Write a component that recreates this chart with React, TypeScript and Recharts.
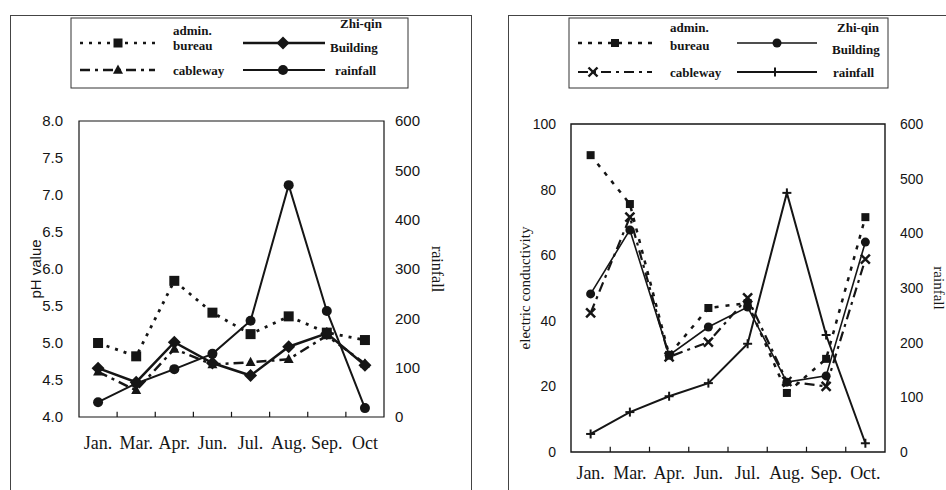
import React from 'react';
import { LineChart, Line, XAxis, YAxis, ReferenceArea, ReferenceLine } from 'recharts';

// month labels (left panel has no dot after Oct)
const monthsPh = ['Jan.', 'Mar.', 'Apr.', 'Jun.', 'Jul.', 'Aug.', 'Sep.', 'Oct'];
const monthsEc = ['Jan.', 'Mar.', 'Apr.', 'Jun.', 'Jul.', 'Aug.', 'Sep.', 'Oct.'];

// pH panel
const phAdmin = [5.0, 4.82, 5.84, 5.41, 5.12, 5.36, 5.14, 5.04];
const phZhiqin = [4.66, 4.47, 5.01, 4.73, 4.56, 4.95, 5.13, 4.7];
const phCableway = [4.61, 4.36, 4.92, 4.71, 4.74, 4.78, 5.1, 4.72];
const rainPh = [30, 68, 97, 128, 195, 470, 215, 18];

// conductivity panel
const ecAdmin = [90.5, 75.6, 29.6, 43.9, 45.4, 18, 28.4, 71.6];
const ecZhiqin = [48.2, 67.7, 29.5, 38.1, 44.2, 21.3, 23.2, 64];
const ecCableway = [42.4, 71.6, 29, 33.5, 47, 21.5, 20, 58.8];
const rainEc = [33, 73, 102, 126, 198, 474, 214, 16];

const phTicks = [4, 4.5, 5, 5.5, 6, 6.5, 7, 7.5, 8];
const ecTicks = [0, 20, 40, 60, 80, 100];
const rainTicks = [0, 100, 200, 300, 400, 500, 600];

const INK = '#151515';
const SANS = '"Liberation Sans", Arial, sans-serif';
const SERIF = '"Liberation Serif", "Times New Roman", serif';

const centers = monthsPh.map((_, i) => i + 0.5);
const bounds = [1, 2, 3, 4, 5, 6, 7];

const phData = monthsPh.map((m, i) => ({
  x: i + 0.5,
  month: m,
  admin: phAdmin[i],
  zhiqin: phZhiqin[i],
  cableway: phCableway[i],
  rain: rainPh[i],
}));

const ecData = monthsEc.map((m, i) => ({
  x: i + 0.5,
  month: m,
  admin: ecAdmin[i],
  zhiqin: ecZhiqin[i],
  cableway: ecCableway[i],
  rain: rainEc[i],
}));

type Shape = 'square' | 'diamond' | 'triangle' | 'circle' | 'cross' | 'plus';

function Marker({ shape, cx, cy, s }: { shape: Shape; cx: number; cy: number; s: number }) {
  const h = s / 2;
  switch (shape) {
    case 'square':
      return <rect x={cx - h} y={cy - h} width={s} height={s} fill={INK} />;
    case 'diamond':
      return <polygon points={`${cx},${cy - h} ${cx + h},${cy} ${cx},${cy + h} ${cx - h},${cy}`} fill={INK} />;
    case 'triangle':
      return <polygon points={`${cx},${cy - h * 1.1} ${cx + h},${cy + h * 0.75} ${cx - h},${cy + h * 0.75}`} fill={INK} />;
    case 'circle':
      return <circle cx={cx} cy={cy} r={h} fill={INK} />;
    case 'cross':
      return (
        <g stroke={INK} strokeWidth={2.4}>
          <line x1={cx - h} y1={cy - h} x2={cx + h} y2={cy + h} />
          <line x1={cx - h} y1={cy + h} x2={cx + h} y2={cy - h} />
        </g>
      );
    default:
      return (
        <g stroke={INK} strokeWidth={2}>
          <line x1={cx - h} y1={cy} x2={cx + h} y2={cy} />
          <line x1={cx} y1={cy - h} x2={cx} y2={cy + h} />
        </g>
      );
  }
}

const dotOf = (shape: Shape, s: number) => (p: any) =>
  <Marker key={`${shape}-${p.index}`} shape={shape} cx={p.cx} cy={p.cy} s={s} />;

type LegendRow = {
  shape: Shape;
  size: number;
  dash?: string;
  sw: number;
  x0: number;
  x1: number;
  mx: number;
  y: number;
  text: { s: string; x: number; y: number }[];
};

const leftLegend: LegendRow[] = [
  { shape: 'square', size: 9, dash: '3 6', sw: 2.5, x0: 80, x1: 160, mx: 118, y: 43, text: [{ s: 'admin.', x: 173, y: 35 }, { s: 'bureau', x: 173, y: 50 }] },
  { shape: 'diamond', size: 13, sw: 2.5, x0: 243, x1: 325, mx: 283, y: 43, text: [{ s: 'Zhi-qin', x: 340, y: 28 }, { s: 'Building', x: 330, y: 52 }] },
  { shape: 'triangle', size: 10, dash: '10 5 3 5', sw: 2.5, x0: 80, x1: 155, mx: 118, y: 70, text: [{ s: 'cableway', x: 173, y: 75 }] },
  { shape: 'circle', size: 10, sw: 2, x0: 243, x1: 325, mx: 283, y: 70, text: [{ s: 'rainfall', x: 335, y: 75 }] },
];

const rightLegend: LegendRow[] = [
  { shape: 'square', size: 8, dash: '4 6', sw: 2.5, x0: 578, x1: 652, mx: 615, y: 43, text: [{ s: 'admin.', x: 670, y: 32 }, { s: 'bureau', x: 670, y: 50 }] },
  { shape: 'circle', size: 9, sw: 1.5, x0: 737, x1: 817, mx: 777, y: 43, text: [{ s: 'Zhi-qin', x: 837, y: 32 }, { s: 'Building', x: 832, y: 54 }] },
  { shape: 'cross', size: 9, dash: '10 5 3 5', sw: 2, x0: 578, x1: 652, mx: 593, y: 72, text: [{ s: 'cableway', x: 670, y: 77 }] },
  { shape: 'plus', size: 9, sw: 1.8, x0: 737, x1: 817, mx: 775, y: 72, text: [{ s: 'rainfall', x: 833, y: 77 }] },
];

function LegendBox({ rows, box }: { rows: LegendRow[]; box: [number, number, number, number] }) {
  return (
    <g>
      <rect x={box[0]} y={box[1]} width={box[2] - box[0]} height={box[3] - box[1]} fill="none" stroke="#333" strokeWidth={1} />
      {rows.map((r, i) => (
        <g key={i}>
          <line x1={r.x0} y1={r.y} x2={r.x1} y2={r.y} stroke={INK} strokeWidth={r.sw} strokeDasharray={r.dash} />
          <Marker shape={r.shape} cx={r.mx} cy={r.y} s={r.size} />
          {r.text.map((t, j) => (
            <text key={j} x={t.x} y={t.y} fontFamily={SERIF} fontSize={13} fontWeight="bold" fill={INK}>
              {t.s}
            </text>
          ))}
        </g>
      ))}
    </g>
  );
}

const sideLabel = (value: string, dx: number, angle: number, font: string, size: number) => (p: any) => {
  const vb = p.viewBox || {};
  const cx = (vb.x || 0) + dx;
  const cy = (vb.y || 0) + (vb.height || 0) / 2;
  return (
    <text x={cx} y={cy} transform={`rotate(${angle} ${cx} ${cy})`} textAnchor="middle" dominantBaseline="central" fontFamily={font} fontSize={size} fill={INK}>
      {value}
    </text>
  );
};

// small inward ticks at the category boundaries
const boundaryTicks = (yAxisId: string, y0: number, len: number) =>
  bounds.map((b) => (
    <ReferenceLine key={`bt-${b}`} xAxisId="lbl" yAxisId={yAxisId}
      segment={[{ x: b, y: y0 }, { x: b, y: y0 + len }]} stroke={INK} strokeWidth={1.2} />
  ));

function PhChart() {
  return (
    <LineChart width={472} height={490} data={phData} margin={{ top: 121, right: 0, bottom: 43, left: 0 }}>
      <XAxis xAxisId="lbl" type="number" dataKey="x" domain={[0, 8]} ticks={centers} interval={0}
        tickFormatter={(v) => monthsPh[Math.floor(v)]} axisLine={false} tickLine={false} tickSize={0} tickMargin={19} height={30}
        tick={{ fill: INK, fontSize: 18, fontFamily: SERIF }} />
      <YAxis yAxisId="ph" domain={[4, 8]} ticks={phTicks} interval={0} width={79} tickSize={0} tickMargin={16}
        axisLine={false} tickLine={false} tickFormatter={(v) => Number(v).toFixed(1)}
        tick={{ fill: INK, fontSize: 15, fontFamily: SANS }}
        label={{ content: sideLabel('pH value', 35, -90, SANS, 15) }} />
      <YAxis yAxisId="rain" orientation="right" domain={[0, 600]} ticks={rainTicks} interval={0} width={88} tickSize={0} tickMargin={11}
        axisLine={false} tickLine={false} tick={{ fill: INK, fontSize: 15, fontFamily: SANS }}
        label={{ content: sideLabel('rainfall', 53, 90, SERIF, 16) }} />
      <ReferenceArea xAxisId="lbl" yAxisId="ph" x1={0} x2={8} y1={4} y2={8} fill="none" stroke={INK} strokeWidth={1.2} />
      {boundaryTicks('ph', 4, 0.07)}
      <Line xAxisId="lbl" yAxisId="ph" dataKey="admin" type="linear" stroke={INK} strokeWidth={2.8} strokeDasharray="3 6"
        dot={dotOf('square', 10)} activeDot={false} isAnimationActive={false} />
      <Line xAxisId="lbl" yAxisId="ph" dataKey="cableway" type="linear" stroke={INK} strokeWidth={2.5} strokeDasharray="10 5 3 5"
        dot={dotOf('triangle', 10)} activeDot={false} isAnimationActive={false} />
      <Line xAxisId="lbl" yAxisId="ph" dataKey="zhiqin" type="linear" stroke={INK} strokeWidth={2.5}
        dot={dotOf('diamond', 13)} activeDot={false} isAnimationActive={false} />
      <Line xAxisId="lbl" yAxisId="rain" dataKey="rain" type="linear" stroke={INK} strokeWidth={2}
        dot={dotOf('circle', 10)} activeDot={false} isAnimationActive={false} />
    </LineChart>
  );
}

function EcChart() {
  return (
    <LineChart width={474} height={490} data={ecData} margin={{ top: 124, right: 0, bottom: 8, left: 0 }}>
      <XAxis xAxisId="lbl" type="number" dataKey="x" domain={[0, 8]} ticks={centers} interval={0}
        tickFormatter={(v) => monthsEc[Math.floor(v)]} axisLine={false} tickLine={false} tickSize={0} tickMargin={14} height={30}
        tick={{ fill: INK, fontSize: 18, fontFamily: SERIF }} />
      <YAxis yAxisId="ec" domain={[0, 100]} ticks={ecTicks} interval={0} width={99} tickSize={0} tickMargin={15}
        axisLine={false} tickLine={false} tick={{ fill: INK, fontSize: 14, fontFamily: SANS }}
        label={{ content: sideLabel('electric conductivity', 53, -90, SERIF, 15) }} />
      <YAxis yAxisId="rain" orientation="right" domain={[0, 600]} ticks={rainTicks} interval={0} width={61} tickSize={0} tickMargin={15}
        axisLine={false} tickLine={false} tick={{ fill: INK, fontSize: 14, fontFamily: SANS }}
        label={{ content: sideLabel('rainfall', 54, 90, SERIF, 15) }} />
      <ReferenceArea xAxisId="lbl" yAxisId="ec" x1={0} x2={8} y1={0} y2={100} fill="none" stroke={INK} strokeWidth={1.4} />
      {boundaryTicks('ec', 0, 1.6)}
      <Line xAxisId="lbl" yAxisId="ec" dataKey="admin" type="linear" stroke={INK} strokeWidth={2.5} strokeDasharray="4 7"
        dot={dotOf('square', 8)} activeDot={false} isAnimationActive={false} />
      <Line xAxisId="lbl" yAxisId="ec" dataKey="cableway" type="linear" stroke={INK} strokeWidth={2.2} strokeDasharray="10 5 3 5"
        dot={dotOf('cross', 9)} activeDot={false} isAnimationActive={false} />
      <Line xAxisId="lbl" yAxisId="ec" dataKey="zhiqin" type="linear" stroke={INK} strokeWidth={1.6}
        dot={dotOf('circle', 9)} activeDot={false} isAnimationActive={false} />
      <Line xAxisId="lbl" yAxisId="rain" dataKey="rain" type="linear" stroke={INK} strokeWidth={2}
        dot={dotOf('plus', 9)} activeDot={false} isAnimationActive={false} />
    </LineChart>
  );
}

export default function App() {
  return (
    <div style={{ position: 'absolute', left: 0, top: 0, width: 946, height: 490, background: '#fff', overflow: 'hidden' }}>
      {/* panel frames */}
      <div style={{ position: 'absolute', left: 10, top: 15, width: 462, height: 500, border: '1px solid #444', boxSizing: 'border-box' }} />
      <div style={{ position: 'absolute', left: 508, top: 15, width: 460, height: 500, border: '1px solid #444', boxSizing: 'border-box' }} />
      <div style={{ position: 'absolute', left: 0, top: 0 }}>
        <PhChart />
      </div>
      <div style={{ position: 'absolute', left: 472, top: 0 }}>
        <EcChart />
      </div>
      <svg width={946} height={100} style={{ position: 'absolute', left: 0, top: 0, pointerEvents: 'none' }}>
        <rect x={71} y={18} width={337} height={70} fill="#fff" />
        <rect x={569} y={18} width={319} height={70} fill="#fff" />
        <LegendBox rows={leftLegend} box={[71, 18, 408, 88]} />
        <LegendBox rows={rightLegend} box={[569, 18, 888, 88]} />
      </svg>
    </div>
  );
}
